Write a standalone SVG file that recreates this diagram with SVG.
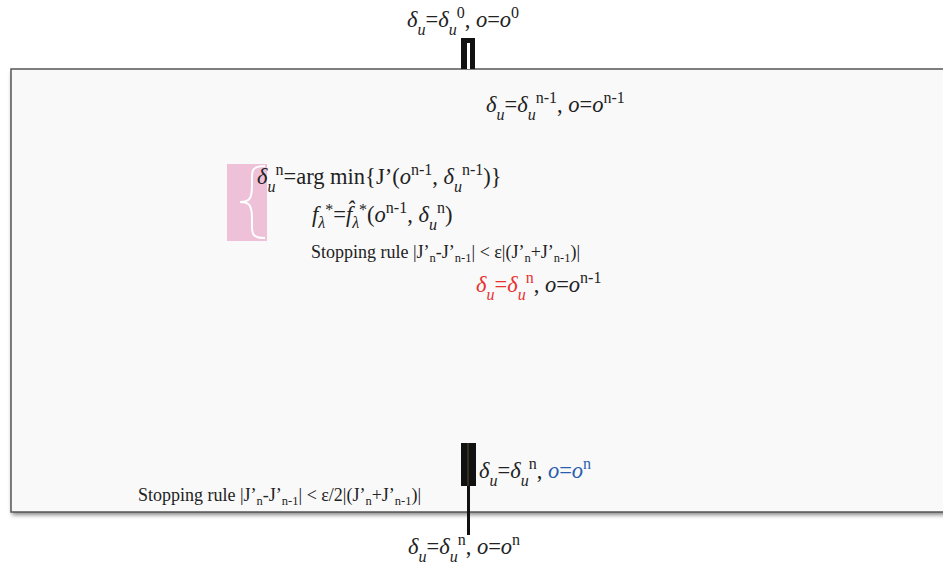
<svg xmlns="http://www.w3.org/2000/svg" width="943" height="565" viewBox="0 0 943 565">
<defs>
<filter id="sh" x="-5%" y="-5%" width="110%" height="115%"><feGaussianBlur stdDeviation="2"/></filter>
</defs>
<style>
text{font-family:"Liberation Serif","Times New Roman",serif;font-size:22.5px;fill:#222}
.i{font-style:italic}
.s{font-size:16px}
.sm{font-size:18px}
.sm2{font-size:12.5px}
.red{fill:#e8312f}
.blue{fill:#2a5db0}
</style>
<rect width="943" height="565" fill="#ffffff"/>
<g id="frame">
<rect x="12" y="72" width="940" height="443" fill="#888" filter="url(#sh)"/>
<rect x="11" y="69" width="940" height="443" fill="#f9f9f9" stroke="#555" stroke-width="1.5"/>
</g>
<g id="connectors">
<rect x="461" y="38" width="14" height="31" fill="#111"/>
<rect x="467" y="43" width="3" height="26" fill="#fff"/>
<rect x="461" y="443" width="15" height="43" fill="#111"/>
<line x1="468" y1="443" x2="468" y2="486" stroke="#5a4a2a" stroke-width="1"/>
<line x1="468.5" y1="486" x2="468.5" y2="535" stroke="#111" stroke-width="3"/>
</g>
<g id="brace">
<rect x="227" y="164" width="40" height="77" fill="#efc1d8"/>
<path d="M265,166 C250,166 252,172 252,185 C252,198 250,202 240,202 C250,202 252,206 252,219 C252,232 250,238 265,238" fill="none" stroke="#fff" stroke-width="2"/>
</g>
<g id="t-top">
<text x="407" y="27"><tspan class="i">δ</tspan><tspan class="i s" dy="8">u</tspan><tspan dy="-8">=</tspan><tspan class="i">δ</tspan><tspan class="i s" dy="8">u</tspan><tspan class="s" dy="-17">0</tspan><tspan dy="9">, </tspan><tspan class="i">o</tspan>=<tspan class="i">o</tspan><tspan class="s" dy="-9">0</tspan></text>
</g>
<g id="t-prev">
<text x="486" y="112"><tspan class="i">δ</tspan><tspan class="i s" dy="8">u</tspan><tspan dy="-8">=</tspan><tspan class="i">δ</tspan><tspan class="i s" dy="8">u</tspan><tspan class="s" dy="-17">n-1</tspan><tspan dy="9">, </tspan><tspan class="i">o</tspan>=<tspan class="i">o</tspan><tspan class="s" dy="-9">n-1</tspan></text>
</g>
<g id="t-argmin">
<text x="257" y="184"><tspan class="i">δ</tspan><tspan class="i s" dy="8">u</tspan><tspan class="s" dy="-17">n</tspan><tspan dy="9">=arg min{J’(</tspan><tspan class="i">o</tspan><tspan class="s" dy="-9">n-1</tspan><tspan dy="9">, </tspan><tspan class="i">δ</tspan><tspan class="i s" dy="8">u</tspan><tspan class="s" dy="-17">n-1</tspan><tspan dy="9">)}</tspan></text>
</g>
<g id="t-f">
<text x="312" y="222"><tspan class="i">f</tspan><tspan class="i s" dy="6">λ</tspan><tspan class="s" dy="-13">*</tspan><tspan dy="7">=</tspan><tspan class="i">f̂</tspan><tspan class="i s" dy="6">λ</tspan><tspan class="s" dy="-13">*</tspan><tspan dy="7">(</tspan><tspan class="i">o</tspan><tspan class="s" dy="-9">n-1</tspan><tspan dy="9">, </tspan><tspan class="i">δ</tspan><tspan class="i s" dy="8">u</tspan><tspan class="s" dy="-17">n</tspan><tspan dy="9">)</tspan></text>
</g>
<g id="t-stop1">
<text x="311" y="258" class="sm">Stopping rule |J’<tspan class="sm2" dy="4">n</tspan><tspan dy="-4">-J’</tspan><tspan class="sm2" dy="4">n-1</tspan><tspan dy="-4">| &lt; ε|(J’</tspan><tspan class="sm2" dy="4">n</tspan><tspan dy="-4">+J’</tspan><tspan class="sm2" dy="4">n-1</tspan><tspan dy="-4">)|</tspan></text>
</g>
<g id="t-red">
<text x="476" y="292"><tspan class="i red">δ</tspan><tspan class="i s red" dy="8">u</tspan><tspan class="red" dy="-8">=</tspan><tspan class="i red">δ</tspan><tspan class="i s red" dy="8">u</tspan><tspan class="s red" dy="-17">n</tspan><tspan dy="9">, </tspan><tspan class="i">o</tspan>=<tspan class="i">o</tspan><tspan class="s" dy="-9">n-1</tspan></text>
</g>
<g id="t-blue">
<text x="479" y="478"><tspan class="i">δ</tspan><tspan class="i s" dy="8">u</tspan><tspan dy="-8">=</tspan><tspan class="i">δ</tspan><tspan class="i s" dy="8">u</tspan><tspan class="s" dy="-17">n</tspan><tspan dy="9">, </tspan><tspan class="i blue">o</tspan><tspan class="blue">=</tspan><tspan class="i blue">o</tspan><tspan class="s blue" dy="-9">n</tspan></text>
</g>
<g id="t-stop2">
<text x="138" y="501" class="sm">Stopping rule |J’<tspan class="sm2" dy="4">n</tspan><tspan dy="-4">-J’</tspan><tspan class="sm2" dy="4">n-1</tspan><tspan dy="-4">| &lt; ε/2|(J’</tspan><tspan class="sm2" dy="4">n</tspan><tspan dy="-4">+J’</tspan><tspan class="sm2" dy="4">n-1</tspan><tspan dy="-4">)|</tspan></text>
</g>
<g id="t-bottom">
<text x="408" y="554"><tspan class="i">δ</tspan><tspan class="i s" dy="8">u</tspan><tspan dy="-8">=</tspan><tspan class="i">δ</tspan><tspan class="i s" dy="8">u</tspan><tspan class="s" dy="-17">n</tspan><tspan dy="9">, </tspan><tspan class="i">o</tspan>=<tspan class="i">o</tspan><tspan class="s" dy="-9">n</tspan></text>
</g>
</svg>
